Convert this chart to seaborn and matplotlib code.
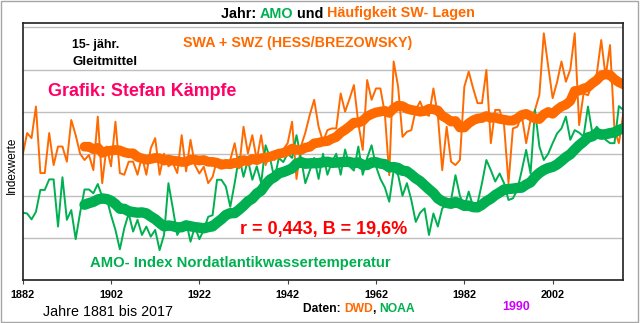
import numpy as np
import pandas as pd
import matplotlib
matplotlib.use("Agg")
import matplotlib.pyplot as plt
from matplotlib.patches import Rectangle
import seaborn as sns

# ---------------- data (index units) ----------------
years = list(range(1881, 2018))

swa_swz = [
    2.97, 3.49, 3.37, 4.12, 2.54, 2.54, 3.49, 2.73, 3.17, 3.17,
    2.81, 3.80, 3.44, 3.00, 2.85, 2.97, 2.61, 3.88, 2.30, 3.17,
    2.70, 3.76, 2.54, 2.50, 2.81, 2.81, 2.50, 2.93, 2.50, 3.13,
    3.37, 2.50, 3.00, 2.70, 2.78, 2.54, 3.44, 2.58, 3.33, 2.73,
    2.53, 2.69, 2.30, 2.45, 2.85, 2.65, 2.80, 2.85, 3.25, 2.65,
    3.64, 3.01, 3.44, 2.85, 3.44, 2.73, 3.01, 2.85, 3.00, 3.10,
    3.25, 3.76, 2.40, 3.17, 3.50, 3.92, 4.28, 3.64, 3.29, 3.56,
    3.60, 3.60, 4.43, 4.00, 4.30, 4.63, 3.72, 3.09, 4.75, 4.28,
    4.55, 4.55, 3.96, 2.49, 5.19, 4.60, 3.40, 3.52, 3.56, 4.04,
    4.24, 3.96, 3.90, 4.55, 3.92, 2.61, 3.64, 2.81, 2.73, 2.85,
    4.59, 4.95, 4.55, 4.20, 4.20, 4.99, 3.25, 4.04, 4.04, 3.68,
    2.30, 3.60, 3.64, 3.92, 3.25, 3.80, 4.04, 4.40, 5.86, 5.07,
    4.32, 4.70, 5.19, 4.71, 5.00, 5.86, 3.68, 4.43, 4.39, 4.67,
    4.90, 5.70, 4.83, 5.58, 3.56, 3.25, 3.96,
]

amo = [
    1.60, 1.58, 1.44, 1.62, 2.14, 2.14, 2.39, 2.39, 1.27, 2.44,
    1.43, 1.66, 0.97, 1.60, 2.15, 2.15, 2.06, 2.28, 1.98, 1.94,
    1.54, 1.19, 0.73, 1.23, 1.58, 1.15, 1.43, 1.07, 1.27, 1.03,
    1.19, 0.71, 1.07, 2.30, 1.70, 1.07, 1.27, 1.39, 0.91, 1.27,
    0.97, 1.19, 1.50, 1.54, 2.38, 2.38, 2.22, 1.74, 2.30, 2.93,
    2.45, 2.85, 2.38, 2.70, 2.30, 3.20, 2.90, 2.40, 2.90, 2.80,
    3.00, 2.90, 3.44, 2.90, 2.30, 2.60, 2.90, 2.40, 3.00, 2.50,
    2.80, 3.00, 2.50, 3.10, 2.70, 2.60, 3.17, 2.50, 2.90, 3.20,
    2.70, 2.40, 2.20, 1.86, 2.60, 2.50, 2.00, 2.30, 1.90, 1.38,
    1.60, 1.70, 1.07, 1.58, 1.27, 1.70, 1.80, 1.90, 2.49, 2.00,
    1.74, 2.10, 1.74, 1.82, 2.30, 2.85, 2.61, 2.34, 2.53, 2.30,
    1.90, 1.94, 2.14, 2.60, 3.09, 2.53, 4.04, 3.17, 2.85, 3.00,
    3.25, 3.48, 3.60, 3.88, 3.33, 3.56, 3.50, 3.41, 4.12, 3.48,
    3.64, 3.50, 3.33, 3.25, 3.25, 4.13, 4.04,
]

tick_years = [1881, 1901, 1921, 1941, 1961, 1981, 2001]
tick_labels = ["1882", "1902", "1922", "1942", "1962", "1982", "2002"]
window = 15

# ---------------- style ----------------
ORANGE = "#FF6A00"
GREEN = "#00B050"
PINK = "#FF0066"
RED = "#FF0000"
VIOLET = "#CC00FF"

sns.set_theme(style="white")
plt.rcParams["font.family"] = ["Liberation Sans", "DejaVu Sans"]

df = pd.DataFrame({"Jahr": years, "SWA": swa_swz, "AMO": amo})
df["SWA_m"] = df["SWA"].rolling(window).mean()
df["AMO_m"] = df["AMO"].rolling(window).mean()

W, H = 640, 323
fig = plt.figure(figsize=(W / 100, H / 100), dpi=100)
fig.patch.set_facecolor("white")

L, R, T, B = 22.7, 623.3, 23.3, 280.0
ax = fig.add_axes([L / W, 1 - B / H, (R - L) / W, (B - T) / H])

sns.lineplot(data=df, x="Jahr", y="SWA", color=ORANGE, lw=1.4, ax=ax)
sns.lineplot(data=df, x="Jahr", y="AMO", color=GREEN, lw=1.4, ax=ax)
sns.lineplot(data=df, x="Jahr", y="SWA_m", color=ORANGE, lw=7.0, ax=ax,
             solid_capstyle="round")
sns.lineplot(data=df, x="Jahr", y="AMO_m", color=GREEN, lw=7.5, ax=ax,
             solid_capstyle="round")

ax.set_xlim(years[0], years[-1])
ax.set_ylim(0, (B - T) / 42.1)
ax.set_yticks([1, 2, 3, 4, 5, 6])
ax.set_yticklabels([])
ax.tick_params(axis="y", length=0)
ax.yaxis.grid(True, color="#BFBFBF", lw=1.0)
ax.xaxis.grid(False)
ax.set_axisbelow(True)
ax.set_xticks(tick_years)
ax.set_xticklabels(tick_labels, fontsize=7.8, fontweight="bold", color="black")
ax.tick_params(axis="x", direction="out", length=3, width=0.8, color="#404040",
               pad=4, bottom=True)
for s in ax.spines.values():
    s.set_color("#202020")
    s.set_linewidth(1.2)
ax.set_xlabel("")
ax.set_ylabel("")


def fx(x):
    return x / W


def fy(y):
    return 1 - y / H


def txt(x, y, s, **kw):
    kw.setdefault("va", "center")
    return fig.text(fx(x), fy(y), s, **kw)


renderer = fig.canvas.get_renderer()


def multicolor(xc, y, pieces, ha="center", **kw):
    full = "".join(p for p, _ in pieces)
    probe = fig.text(0, 0, full + "|", **kw)
    bar = fig.text(0, 0, "|", **kw)
    bw = bar.get_window_extent(renderer).width
    total = probe.get_window_extent(renderer).width - bw
    x0 = xc - total / 2 if ha == "center" else xc
    prefix = ""
    for s, c in pieces:
        off = 0
        if prefix:
            probe.set_text(prefix + "|")
            off = probe.get_window_extent(renderer).width - bw
        fig.text(fx(x0 + off), fy(y), s, color=c, va="center", ha="left", **kw)
        prefix += s
    probe.remove()
    bar.remove()


multicolor(348, 13.5, [("Jahr: ", "black"), ("AMO", GREEN), (" und ", "black"),
                       ("Häufigkeit SW- Lagen", ORANGE)],
           fontsize=10.4, fontweight="bold")

txt(72, 45, "15- jähr.", ha="left", fontsize=8.9, fontweight="bold", color="black")
txt(72.7, 61.7, "Gleitmittel", ha="left", fontsize=9.6, fontweight="bold", color="black")
txt(297.5, 43.5, "SWA + SWZ (HESS/BREZOWSKY)", ha="center", fontsize=10.3,
    fontweight="bold", color=ORANGE)
txt(141.7, 91.7, "Grafik: Stefan Kämpfe", ha="center", fontsize=12.9,
    fontweight="bold", color=PINK)
txt(323.3, 229.5, "r = 0,443, B = 19,6%", ha="center", fontsize=13,
    fontweight="bold", color=RED)
txt(240.5, 263.3, "AMO- Index Nordatlantikwassertemperatur", ha="center",
    fontsize=10.7, fontweight="bold", color=GREEN)
txt(11.5, 165, "Indexwerte", ha="center", rotation=90, fontsize=8.5, color="black")
txt(108, 311.7, "Jahre 1881 bis 2017", ha="center", fontsize=10.3, color="black")
multicolor(303, 309, [("Daten: ", "black"), ("DWD", ORANGE), (", ", "black"),
                      ("NOAA", GREEN)], ha="left", fontsize=8.7, fontweight="bold")
txt(515.7, 307, "1990", ha="center", fontsize=9, fontweight="bold", color=VIOLET)

fig.add_artist(Rectangle((fx(1), fy(322)), fx(637), 321 / H, transform=fig.transFigure,
                         fill=False, edgecolor="#A6A6A6", lw=1.0))

fig.savefig("out.png", dpi=100, facecolor="white")
